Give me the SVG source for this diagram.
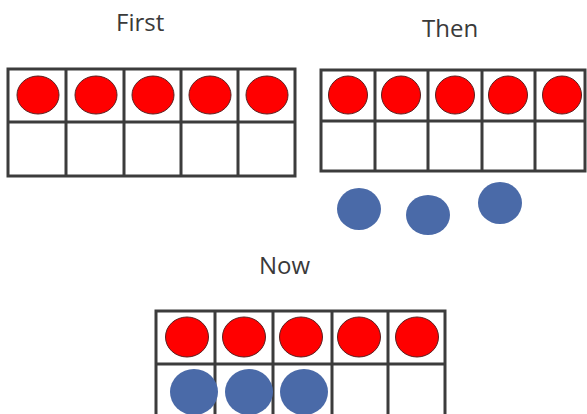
<svg xmlns="http://www.w3.org/2000/svg" width="587" height="414" viewBox="0 0 587 414">
<style>
.lbl{font-family:"Open Sans","Liberation Sans",sans-serif;font-size:24px;fill:#3a3a3a}
.grid{fill:#fff;stroke:#3c3c3c;stroke-width:3}
.line{stroke:#3c3c3c;stroke-width:3}
.red{fill:#ff0000;stroke:#5a2020;stroke-width:1}
.blue{fill:#4a6aa8}
</style>
<rect width="587" height="414" fill="#fff"/>
<text class="lbl" x="116" y="31">First</text>
<text class="lbl" x="422" y="37">Then</text>
<text class="lbl" x="259" y="274">Now</text>
<g id="first">
<rect class="grid" x="8" y="69" width="287" height="107"/>
<path class="line" d="M8 122H295M66 69V176M124 69V176M181 69V176M238 69V176"/>
<ellipse class="red" cx="38" cy="95" rx="21" ry="19"/>
<ellipse class="red" cx="96" cy="95" rx="21" ry="19"/>
<ellipse class="red" cx="153" cy="95" rx="21" ry="19"/>
<ellipse class="red" cx="210" cy="95" rx="21" ry="19"/>
<ellipse class="red" cx="267" cy="95" rx="21" ry="19"/>
</g>
<g id="then">
<rect class="grid" x="321" y="70" width="264" height="101"/>
<path class="line" d="M321 121H585M375 70V171M428 70V171M482 70V171M535 70V171"/>
<ellipse class="red" cx="348" cy="95" rx="19.5" ry="19"/>
<ellipse class="red" cx="401" cy="95" rx="19.5" ry="19"/>
<ellipse class="red" cx="455" cy="95" rx="19.5" ry="19"/>
<ellipse class="red" cx="508" cy="95" rx="19.5" ry="19"/>
<ellipse class="red" cx="562" cy="95" rx="19.5" ry="19"/>
</g>
<g id="loose">
<ellipse class="blue" cx="359" cy="209" rx="22" ry="21"/>
<ellipse class="blue" cx="428" cy="215" rx="22" ry="20"/>
<ellipse class="blue" cx="500" cy="203" rx="22" ry="21"/>
</g>
<g id="now">
<rect class="grid" x="156" y="311" width="289" height="110"/>
<path class="line" d="M156 364H445M215 311V421M273 311V421M332 311V421M388 311V421"/>
<ellipse class="red" cx="187" cy="337" rx="21.5" ry="20"/>
<ellipse class="red" cx="244" cy="337" rx="21.5" ry="20"/>
<ellipse class="red" cx="301" cy="337" rx="21.5" ry="20"/>
<ellipse class="red" cx="359" cy="337" rx="21.5" ry="20"/>
<ellipse class="red" cx="417" cy="337" rx="21.5" ry="20"/>
<ellipse class="blue" cx="194" cy="392" rx="24" ry="23"/>
<ellipse class="blue" cx="249" cy="392" rx="24" ry="23"/>
<ellipse class="blue" cx="304" cy="392" rx="24" ry="23"/>
</g>
<g id="connectors"/>
</svg>
